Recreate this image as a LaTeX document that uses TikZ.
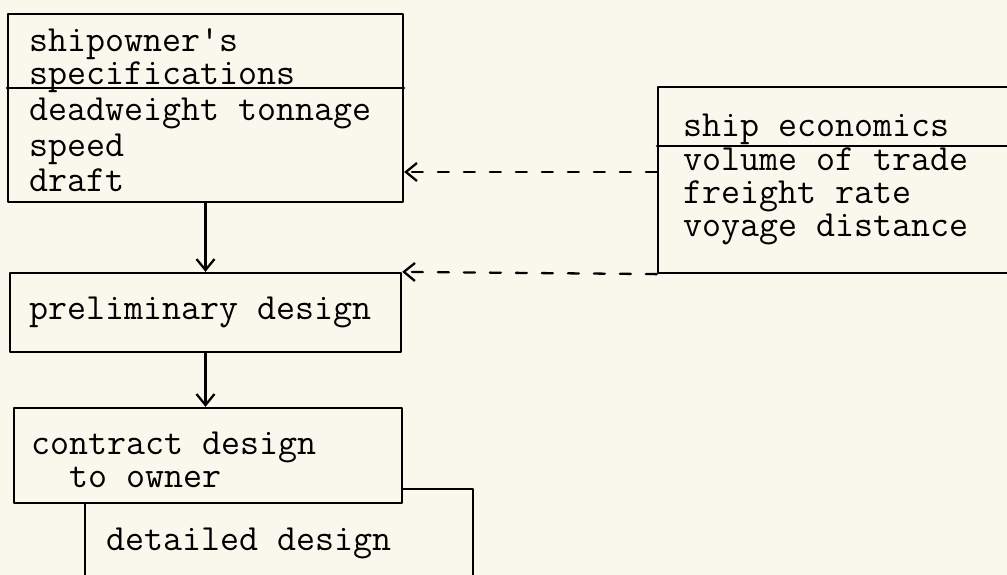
\documentclass[tikz,border=0pt]{standalone}
\usepackage{fontspec}
\usetikzlibrary{arrows.meta}
\definecolor{paper}{RGB}{250,248,236}
\begin{document}
\begin{tikzpicture}[line width=1.3pt,line join=round,line cap=round,>={Straight Barb[length=0.22cm,width=0.36cm]},
  box/.style={draw,fill=paper,inner sep=0pt},
  txt/.style={anchor=west,align=left,inner sep=0pt,font=\ttfamily\fontsize{21}{18.8}\selectfont},
  feed/.style={->,dash pattern=on 0.22cm off 0.3cm}]
\clip (0,0) rectangle (20.14,11.5);
\fill[paper] (0,0) rectangle (20.14,11.5);
\node[box,minimum width=7.9cm,minimum height=3.76cm] (specs) at (4.11,9.34) {};
\node[box,minimum width=7.82cm,minimum height=1.58cm] (prelim) at (4.11,5.25) {};
\node[box,minimum width=7.76cm,minimum height=2.22cm] (detail) at (5.58,0.61) {};
\node[box,minimum width=7.76cm,minimum height=1.9cm] (contract) at (4.16,2.39) {};
\node[box,minimum width=7.64cm,minimum height=3.72cm] (econ) at (16.98,7.9) {};
\draw (specs.west |- 0,9.74) -- (specs.east |- 0,9.74);
\draw (econ.west |- 0,8.58) -- (econ.east |- 0,8.58);
\node[txt] (specshead) at (0.56,10.28) {shipowner's\\specifications};
\node[txt,font=\ttfamily\fontsize{21}{20.2}\selectfont] (specsbody) at (0.56,8.6) {deadweight tonnage\\speed\\draft};
\node[txt] (prelimtext) at (0.56,5.26) {preliminary design};
\node[txt] (contracttext) at (0.6,2.3) {contract design\\~~to owner};
\node[txt] (detailtext) at (2.1,0.64) {detailed design};
\node[txt] (econhead) at (13.64,8.92) {ship economics};
\node[txt] (econbody) at (13.64,7.57) {volume of trade\\freight rate\\voyage distance};
\draw[->] (specs.south) -- (prelim.north);
\draw[->] (prelim.south) -- (prelim.south |- contract.north);
\draw[feed] (econ.west |- 0,8.06) -- (specs.east |- 0,8.06);
\draw[feed] (econ.south west) -- (prelim.north east);
\end{tikzpicture}
\end{document}
